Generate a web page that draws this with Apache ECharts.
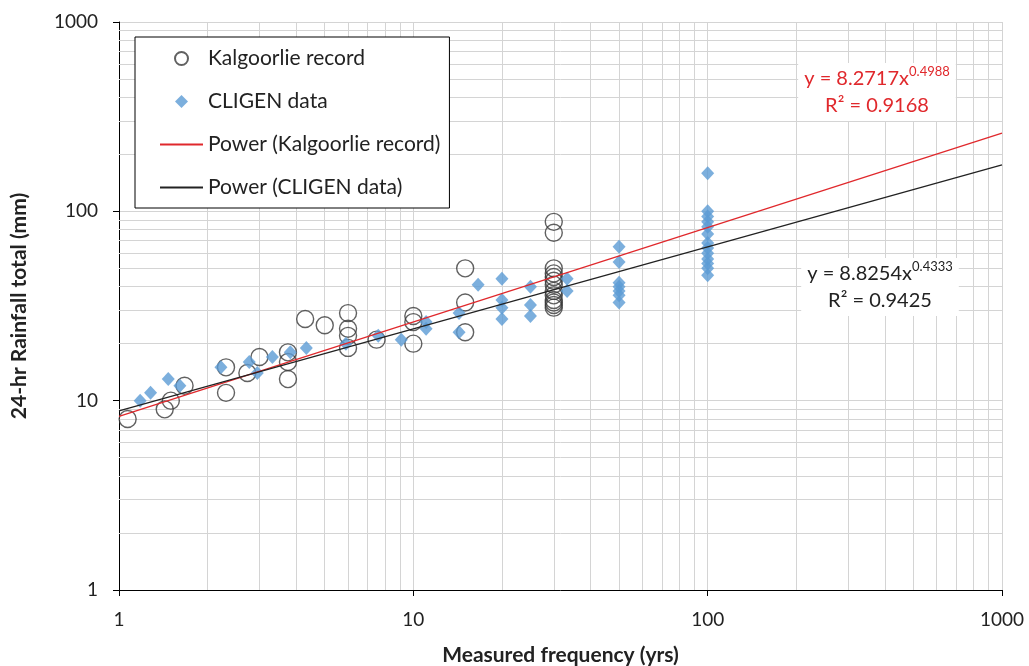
<!DOCTYPE html>
<html>
<head>
<meta charset="utf-8">
<script src="https://cdn.jsdelivr.net/npm/echarts@6/dist/echarts.min.js"></script>
<style>
  html, body { margin: 0; padding: 0; background: #fff; }
  #chart { width: 1029px; height: 666px; }
</style>
</head>
<body>
<div id="chart"></div>
<script>
// Kalgoorlie record (open circles)
const kalX = [1.07, 1.43, 1.5, 1.67, 2.31, 2.31, 2.73, 3, 3.75, 3.75, 3.75, 4.29, 5,
  6, 6, 6, 6, 7.5, 10, 10, 10, 15, 15, 15,
  30, 30, 30, 30, 30, 30, 30, 30, 30, 30, 30, 30, 30];
const kalY = [8, 9, 10, 12, 11, 15, 14, 17, 13, 16, 18, 27, 25,
  29, 24, 22, 19, 21, 28, 26, 20, 50, 33, 23,
  88, 77, 50, 47, 45, 43, 41, 38, 36, 34, 33, 32, 31];

// CLIGEN data (blue diamonds)
const cligenX = [1.18, 1.28, 1.47, 1.61, 2.22, 2.77, 2.95, 3.32, 3.82, 4.33, 5.9, 7.6, 9.1,
  11.05, 11.05, 14.3, 14.3, 16.6, 20, 20, 20, 20, 25, 25, 25, 33.3, 33.3,
  50, 50, 50, 50, 50, 50, 50,
  100, 100, 100, 100, 100, 100, 100, 100, 100, 100, 100, 100, 100];
const cligenY = [10, 11, 13, 12, 15, 16, 14, 17, 18, 19, 20, 22, 21,
  26, 24, 29, 23, 41, 44, 34, 31, 27, 40, 32, 28, 44, 38,
  65, 54, 42, 40, 38, 36, 33,
  159, 100, 94, 88, 83, 76, 68, 64, 60, 56, 53, 50, 46];

// power trendline ends (x = 1 and x = 1000)
const trendX = [1, 1000];
const kalTrendY = [8.27, 259];
const cligenTrendY = [8.83, 176];

const decades = [1, 10, 100];
const minorSteps = [2, 3, 4, 5, 6, 7, 8, 9];

const FONT = 'Lato, "Noto Sans", sans-serif';
const DIAMOND = 'path://M0,-1L1,0L0,1L-1,0Z';
const zip = (xs, ys) => xs.map((x, i) => [x, ys[i]]);

let minorVals = [];
decades.forEach(d => minorSteps.forEach(m => minorVals.push(d * m)));
const gridLines = minorVals.map(v => ({ xAxis: v })).concat(minorVals.map(v => ({ yAxis: v })));

const logAxis = (name, gap, margin) => ({
  type: 'log',
  logBase: 10,
  min: 1,
  max: 1000,
  name: name,
  nameLocation: 'middle',
  nameGap: gap,
  nameTextStyle: { fontFamily: FONT, fontWeight: 'bold', fontSize: 21, color: '#222' },
  axisLine: { show: true, lineStyle: { color: '#000', width: 1 } },
  axisTick: { show: true, length: 6, lineStyle: { color: '#000' } },
  axisLabel: { fontFamily: FONT, fontSize: 19, color: '#222', margin: margin, formatter: v => String(v) },
  splitLine: { show: true, lineStyle: { color: '#d4d4d4', width: 1 } }
});

const noDot = { color: 'rgba(0,0,0,0)', borderColor: 'rgba(0,0,0,0)', borderWidth: 0 };

const chart = echarts.init(document.getElementById('chart'));
chart.setOption({
  animation: false,
  backgroundColor: '#fff',
  grid: { left: 119, right: 27, top: 22, bottom: 76, outerBoundsMode: 'none' },
  xAxis: logAxis('Measured frequency (yrs)', 55, 20),
  yAxis: logAxis('24-hr Rainfall total (mm)', 89, 21),
  legend: {
    orient: 'vertical',
    left: 135,
    top: 37,
    data: [
      'Kalgoorlie record',
      { name: 'CLIGEN data', icon: DIAMOND },
      'Power (Kalgoorlie record)',
      'Power (CLIGEN data)'
    ],
    symbolKeepAspect: true,
    backgroundColor: '#fff',
    borderColor: '#000',
    borderWidth: 1,
    padding: [11, 9, 10, 24],
    itemGap: 22,
    itemWidth: 43,
    itemHeight: 13,
    textStyle: { fontFamily: FONT, fontSize: 21, lineHeight: 21, color: '#222' }
  },
  series: [
    {
      name: 'gridlines',
      type: 'line',
      data: [],
      markLine: {
        silent: true,
        z: 1,
        symbol: ['none', 'none'],
        label: { show: false },
        lineStyle: { color: '#d4d4d4', width: 1, type: 'solid' },
        data: gridLines
      }
    },
    {
      name: 'Kalgoorlie record',
      type: 'scatter',
      symbol: 'circle',
      symbolSize: 17,
      itemStyle: { color: 'rgba(255,255,255,0)', borderColor: '#3a3a3a', borderWidth: 1.4 },
      data: zip(kalX, kalY),
      z: 3
    },
    {
      name: 'CLIGEN data',
      type: 'scatter',
      symbol: 'diamond',
      symbolSize: [13, 14],
      itemStyle: { color: '#5b9bd5' },
      data: zip(cligenX, cligenY),
      z: 4
    },
    {
      name: 'Power (Kalgoorlie record)',
      type: 'line',
      symbol: 'none',
      itemStyle: noDot,
      lineStyle: { color: '#e0282c', width: 1.3 },
      data: zip(trendX, kalTrendY),
      z: 5
    },
    {
      name: 'Power (CLIGEN data)',
      type: 'line',
      symbol: 'none',
      itemStyle: noDot,
      lineStyle: { color: '#222', width: 1.3 },
      data: zip(trendX, cligenTrendY),
      z: 5
    }
  ],
  graphic: [
    {
      type: 'text',
      x: 877,
      y: 92,
      z: 10,
      style: {
        text: '{a|y = 8.2717x}{s|0.4988}\n{a|R² = 0.9168}',
        align: 'center',
        verticalAlign: 'middle',
        backgroundColor: '#fff',
        padding: [2, 6],
        fill: '#e0282c',
        rich: {
          a: { fontFamily: FONT, fontSize: 20, lineHeight: 27, fill: '#e0282c' },
          s: { fontFamily: FONT, fontSize: 13, lineHeight: 27, verticalAlign: 'top', fill: '#e0282c' }
        }
      }
    },
    {
      type: 'text',
      x: 880,
      y: 287,
      z: 10,
      style: {
        text: '{a|y = 8.8254x}{s|0.4333}\n{a|R² = 0.9425}',
        align: 'center',
        verticalAlign: 'middle',
        backgroundColor: '#fff',
        padding: [2, 6],
        fill: '#222',
        rich: {
          a: { fontFamily: FONT, fontSize: 20, lineHeight: 27, fill: '#222' },
          s: { fontFamily: FONT, fontSize: 13, lineHeight: 27, verticalAlign: 'top', fill: '#222' }
        }
      }
    }
  ]
});
</script>
</body>
</html>
